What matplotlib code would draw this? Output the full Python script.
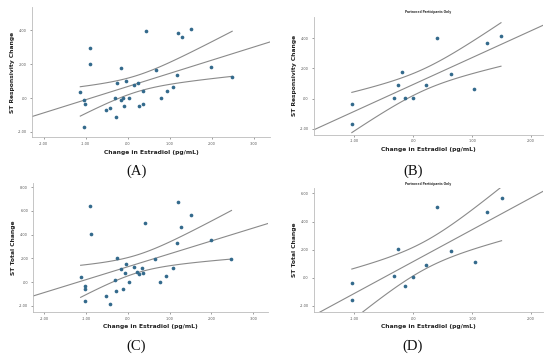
import numpy as np
import matplotlib.pyplot as plt

# datos
# (A) todos los participantes
xa = [-1.13, -1.03, -1.02, -1.03, -0.90, -0.89, -0.53, -0.43, -0.31, -0.28, -0.25,
      -0.17, -0.16, -0.12, -0.08, -0.04, 0.02, 0.15, 0.23, 0.26, 0.35, 0.37, 0.42,
      0.66, 0.78, 0.92, 1.07, 1.18, 1.20, 1.28, 1.51, 1.98, 2.48]
ya = [0.37, -0.10, -0.37, -1.73, 2.98, 2.00, -0.73, -0.61, 0.00, -1.10, 0.88,
      1.75, -0.12, 0.00, -0.49, 1.00, 0.00, 0.76, 0.88, -0.49, 0.39, -0.37, 3.98,
      1.63, 0.00, 0.39, 0.63, 1.37, 3.86, 3.61, 4.10, 1.86, 1.25]

# (B) solo participantes en pareja
xb = [-1.03, -1.04, -0.33, -0.26, -0.19, -0.13, 0.00, 0.21, 0.40, 0.64, 1.04, 1.25, 1.49]
yb = [-0.35, -1.72, 0.02, 0.90, 1.79, 0.02, 0.02, 0.90, 4.04, 1.66, 0.66, 3.67, 4.18]

# (C) todos los participantes, cambio total
xc = [-1.13, -1.03, -1.02, -1.02, -0.90, -0.89, -0.53, -0.43, -0.31, -0.28, -0.25,
      -0.16, -0.12, -0.08, -0.04, 0.02, 0.15, 0.23, 0.26, 0.35, 0.37, 0.42,
      0.66, 0.78, 0.92, 1.07, 1.18, 1.20, 1.28, 1.51, 1.98, 2.48]
yc = [0.39, -1.60, -0.34, -0.62, 6.39, 4.03, -1.21, -1.83, 0.14, -0.73, 2.00,
      1.13, -0.62, 0.79, 1.55, 0.00, 1.30, 0.87, 0.65, 1.15, 0.79, 5.01,
      1.92, 0.00, 0.54, 1.15, 3.27, 6.76, 4.65, 5.63, 3.52, 1.92]

# (D) solo participantes en pareja, cambio total
xd = [-1.03, -1.04, -0.33, -0.26, -0.13, 0.00, 0.21, 0.40, 0.65, 1.05, 1.26, 1.50]
yd = [-0.36, -1.62, 0.14, 2.02, -0.62, 0.02, 0.90, 5.02, 1.90, 1.14, 4.67, 5.67]

xlabel = "Change in Estradiol (pg/mL)"
punto = "#336a8c"
linea = "#8a8a8a"


def panel(ax, x, y, xlim, ylim, xticks, yticks, ylabel, titulo=None, t=2.04):
    x = np.array(x)
    y = np.array(y)
    n = len(x)
    b, a = np.polyfit(x, y, 1)
    res = y - (a + b * x)
    s = np.sqrt(np.sum(res ** 2) / (n - 2))
    sxx = np.sum((x - x.mean()) ** 2)

    # recta de regresion a lo ancho del eje
    xl = np.linspace(xlim[0], xlim[1], 50)
    ax.plot(xl, a + b * xl, color=linea, lw=0.8)

    # intervalo de confianza de la media
    xs = np.linspace(x.min(), x.max(), 100)
    se = s * np.sqrt(1 / n + (xs - x.mean()) ** 2 / sxx)
    ax.plot(xs, a + b * xs + t * se, color=linea, lw=0.8)
    ax.plot(xs, a + b * xs - t * se, color=linea, lw=0.8)

    ax.scatter(x, y, s=7, color=punto, zorder=3, linewidths=0)

    ax.set_xlim(xlim)
    ax.set_ylim(ylim)
    ax.set_xticks(xticks)
    ax.set_yticks(yticks)
    fmt = lambda v: ".00" if v == 0 else "%.2f" % v
    ax.set_xticklabels([fmt(v) for v in xticks])
    ax.set_yticklabels([fmt(v) for v in yticks])
    ax.tick_params(labelsize=2.5, length=1.5, width=0.4, colors="#555555", pad=2)
    for lado in ["top", "right"]:
        ax.spines[lado].set_visible(False)
    for lado in ["left", "bottom"]:
        ax.spines[lado].set_color("#bbbbbb")
        ax.spines[lado].set_linewidth(0.6)

    # posicion de las etiquetas en pixeles respecto del eje
    bb = ax.get_position()
    w = bb.width * 550
    h = bb.height * 355
    ax.set_xlabel(xlabel, fontsize=4.3, fontweight="bold", color="#222222")
    ax.set_ylabel(ylabel, fontsize=4.3, fontweight="bold", color="#222222")
    ax.xaxis.set_label_coords(0.5, -15 / h)
    ax.xaxis.label.set_va("center")
    ax.yaxis.set_label_coords(-19 / w, 0.5)
    ax.yaxis.label.set_va("center")
    if titulo:
        ax.set_title(titulo, fontsize=2.2, fontweight="bold", color="#333333", pad=2.5)


fig = plt.figure(figsize=(5.5, 3.55), dpi=100)

axA = fig.add_axes([0.058, 0.614, 0.433, 0.366])
panel(axA, xa, ya, (-2.28, 3.38), (-2.3, 5.37), [-2, -1, 0, 1, 2, 3],
      [-2, 0, 2, 4], "ST Responsivity Change", t=2.04)

axB = fig.add_axes([0.570, 0.621, 0.417, 0.332])
panel(axB, xb, yb, (-1.69, 2.2), (-2.39, 5.44), [-1, 0, 1, 2],
      [-2, 0, 2, 4], "ST Responsivity Change", "Partnered Participants Only", t=2.20)

axC = fig.add_axes([0.060, 0.122, 0.427, 0.362])
panel(axC, xc, yc, (-2.27, 3.35), (-2.5, 8.34), [-2, -1, 0, 1, 2, 3],
      [-2, 0, 2, 4, 6, 8], "ST Total Change", t=2.04)

axD = fig.add_axes([0.570, 0.122, 0.417, 0.348])
panel(axD, xd, yd, (-1.69, 2.2), (-2.43, 6.38), [-1, 0, 1, 2],
      [-2, 0, 2, 4, 6], "ST Total Change", "Partnered Participants Only", t=2.23)

# etiquetas de los paneles
for txt, px, py in [("(A)", 0.248, 0.518), ("(B)", 0.751, 0.518),
                    ("(C)", 0.248, 0.025), ("(D)", 0.751, 0.025)]:
    fig.text(px, py, txt, fontsize=10.5, fontfamily="Liberation Serif",
             ha="center", va="center", color="#111111")

fig.savefig("out.png", dpi=100)
